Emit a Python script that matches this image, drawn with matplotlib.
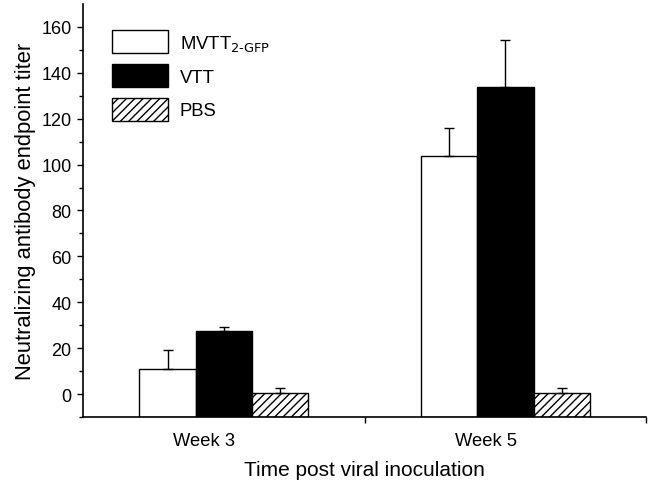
import matplotlib
matplotlib.use("Agg")
import matplotlib.pyplot as plt
import numpy as np

plt.rcParams['font.family'] = ['Liberation Sans', 'DejaVu Sans']
plt.rcParams['hatch.linewidth'] = 1.0

groups = ["Week 3", "Week 5"]
series = ["MVTT$_{2\\text{-}\\mathrm{GFP}}$", "VTT", "PBS"]
values = {
    "MVTT": [10.9, 103.8],
    "VTT": [27.4, 133.9],
    "PBS": [0.4, 0.4],
}
errors = {
    "MVTT": [8.5, 12.0],
    "VTT": [2.0, 20.5],
    "PBS": [2.2, 2.2],
}
yticks = [0, 20, 40, 60, 80, 100, 120, 140, 160]

fig = plt.figure(figsize=(6.5, 4.85), dpi=100)
ax = fig.add_axes([0.128, 0.138, 0.866, 0.852])

base = -10
x = np.arange(1, len(groups) + 1)
w = 0.2
styles = [
    dict(facecolor="white", edgecolor="black", hatch=None),
    dict(facecolor="black", edgecolor="black", hatch=None),
    dict(facecolor="white", edgecolor="black", hatch="////"),
]
keys = ["MVTT", "VTT", "PBS"]
for i, (k, lab, st) in enumerate(zip(keys, series, styles)):
    xs = x + (i - 1) * w
    vals = np.array(values[k])
    ax.bar(xs, vals - base, bottom=base, width=w, label=lab, linewidth=1.0, zorder=2, **st)
    ax.errorbar(xs, vals, yerr=[np.zeros_like(vals), errors[k]], fmt="none",
                ecolor="black", elinewidth=1.0, capsize=3.3, capthick=1.0, zorder=3)

ax.set_xlim(0.5, 2.5)
ax.set_ylim(-10, 170)
ax.set_yticks(yticks)
ax.set_yticks(np.arange(-10, 170, 10), minor=True)
ax.set_xticks([1.5, 2.5])
ax.set_xticklabels([])
ax.set_xticks(x - 0.07, minor=True)
ax.set_xticklabels(groups, minor=True)
ax.tick_params(axis="x", which="minor", length=0, pad=11, labelsize=13.2)
ax.tick_params(axis="x", which="major", length=4, width=1)
ax.tick_params(axis="y", which="major", length=4.5, width=1, labelsize=13, pad=4)
ax.tick_params(axis="y", which="minor", length=3, width=1)
for s in ["top", "right"]:
    ax.spines[s].set_visible(False)
for s in ["left", "bottom"]:
    ax.spines[s].set_linewidth(1.2)

ax.set_xlabel("Time post viral inoculation", fontsize=15, labelpad=8)
ax.set_ylabel("Neutralizing antibody endpoint titer", fontsize=15.8, labelpad=4)

leg = ax.legend(loc="upper left", bbox_to_anchor=(112 / 650, 1 - 31 / 485),
                bbox_transform=fig.transFigure, frameon=False, fontsize=13.3,
                handlelength=3.03, handleheight=1.53, labelspacing=0.6,
                handletextpad=0.65, borderpad=0, borderaxespad=0)

fig.savefig("out.png", dpi=100)
